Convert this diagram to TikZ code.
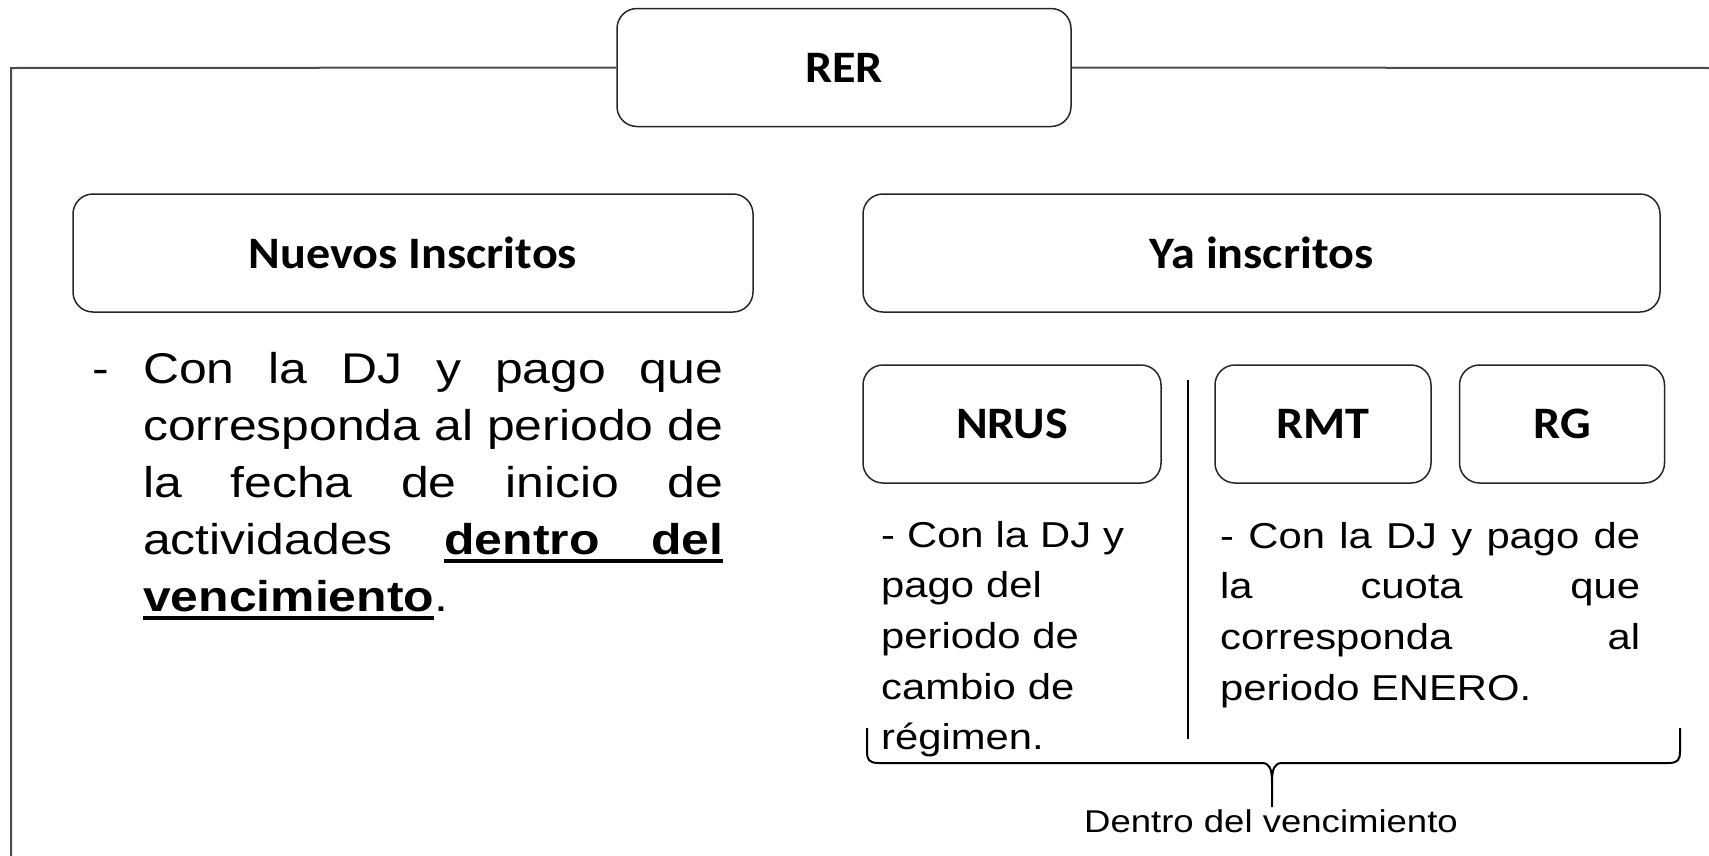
\documentclass[tikz,border=0pt]{standalone}
\usepackage{fontspec}
\setmainfont{Liberation Sans}[FakeStretch=1.16]
\newfontfamily\headfont{Carlito}[FakeStretch=1.07]
\usetikzlibrary{positioning}
\hyphenpenalty=10000
\tolerance=9999
\tikzset{%
  block/.style = {draw = black!85, line width = 1.5pt, rounded corners = 20pt,
    minimum height = 118pt, align = center,
    font = \headfont\bfseries\fontsize{45}{50}\selectfont}, % Heading box
  note/.style  = {inner sep = 0pt, anchor = base west}, % Body text
  frame/.style = {draw = black!70, line width = 2pt}, % Outer frame
  brace/.style = {draw = black, line width = 2pt}
}
\newcommand{\bodysize}[2]{\fontsize{#1}{#2}\selectfont}
\newcommand{\ulword}[1]{\setbox0\hbox{#1}\rlap{\rule[-8.5pt]{\wd0}{4pt}}\box0\relax}
\newcommand{\ulspace}{\leaders\hrule height -4.5pt depth 8.5pt\hskip\fontdimen2\font plus \fontdimen3\font minus \fontdimen4\font\relax}

\begin{document}
\begin{tikzpicture}[x = 1pt, y = -1pt]
\useasboundingbox (0,0) rectangle (1709,855);
%heading blocks
\draw
	(844,67.5) node [block, minimum width = 454pt] (rer) {RER}
	(413,253) node [block, minimum width = 680pt] (new) {Nuevos Inscritos}
	(1261.5,253) node [block, minimum width = 797pt] (old) {Ya inscritos}
	(1012,424) node [block, minimum width = 298pt] (nrus) {NRUS}
	(1323,424) node [block, minimum width = 216pt] (rmt) {RMT};
\node [block, minimum width = 205pt, right = 27pt of rmt] (rg) {RG};
%frame lines
\coordinate (ftl) at (11,68);
\coordinate (fbl) at (11,860);
\coordinate (fr) at (1712,68);
\draw[frame] (rer.west) -- (ftl) -- (fbl);
\draw[frame] (rer.east) -- (fr);
%body texts
\node [note, text width = 631pt, align = justify, font = \bodysize{43}{57}] (newtext) at (92,383)
	{\hangindent=51pt\hangafter=1\noindent\makebox[51pt][l]{-}Con la DJ y pago que\linebreak
	corresponda al periodo de\linebreak la fecha de inicio de\linebreak
	actividades {\bfseries\ulword{dentro}\ulspace\ulword{del}}\linebreak
	{\bfseries\ulword{vencimiento}}.\par};
\node [note, text width = 275pt, align = left, font = \bodysize{36}{50.7}] (nrustext) at (881,547)
	{- Con la DJ y\\ pago del\\ periodo de\\ cambio de\\ régimen.};
\node [note, text width = 420pt, align = justify, font = \bodysize{36}{50.7}] (rmttext) at (1220,548)
	{- Con la DJ y pago de\linebreak la cuota que\linebreak corresponda al\linebreak periodo ENERO.};
%divider
\coordinate (dtop) at (1188,380);
\coordinate (dbot) at (1188,739);
\draw[line width = 2.5pt] (dtop) -- (dbot);
%brace and label
\coordinate (bl) at (867,728);
\coordinate (br) at (1680,728);
\coordinate (btip) at (1272,807);
\draw[brace] (bl) -- (867,751) .. controls (867,760) and (869,763) .. (879,763)
	-- (1262,763) .. controls (1269,763) and (1272,768) .. (1272,782) -- (btip)
	(1272,782) .. controls (1272,768) and (1275,763) .. (1282,763)
	-- (1668,763) .. controls (1678,763) and (1680,760) .. (1680,751) -- (br);
\node [anchor = base, font = \bodysize{31.5}{36}] (due) at (1271,832) {Dentro del vencimiento};
\end{tikzpicture}
\end{document}
